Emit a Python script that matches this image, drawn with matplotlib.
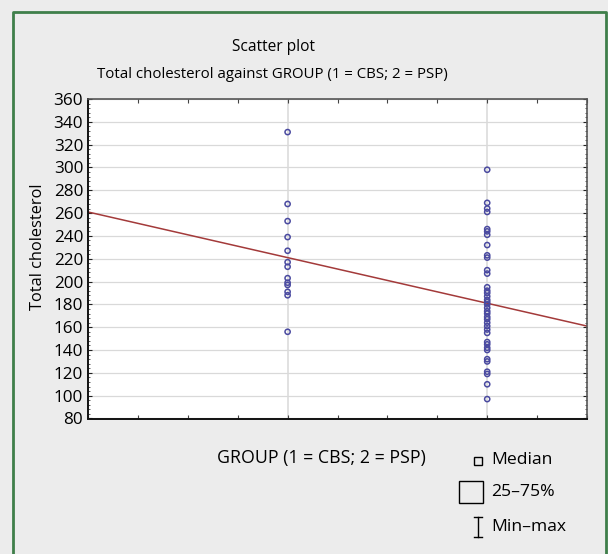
import matplotlib
matplotlib.use("Agg")
import matplotlib.pyplot as plt
from matplotlib.patches import Rectangle
from matplotlib.lines import Line2D
import numpy as np

plt.rcParams['font.family'] = ['Open Sans', 'DejaVu Sans']

# ---- data ----
title_lines = ["Scatter plot", "Total cholesterol against GROUP (1 = CBS; 2 = PSP)"]
x_label = "GROUP (1 = CBS; 2 = PSP)"
y_label = "Total cholesterol"
groups = [1, 2]
group1_values = [331, 268, 253, 239, 227, 217, 213, 203, 199, 197, 191, 188, 156]
group2_values = [298, 269, 264, 261, 246, 244, 241, 232, 223, 221, 210, 207,
                 195, 192, 190, 187, 184, 182, 180, 177, 174, 172, 169, 167,
                 164, 161, 158, 155, 147, 145, 142, 140, 132, 130, 121, 119,
                 110, 97]
fit_intercept = 261.0
fit_slope = -40.0
y_ticks = list(range(80, 361, 20))
x_limits = (0.0, 2.5)
legend_labels = ["Median", "25\u201375%", "Min\u2013max"]

W, H = 608, 554
fig = plt.figure(figsize=(W / 100, H / 100), dpi=100)
fig.patch.set_facecolor('#ececec')

def fx(px):
    return px / W

def fy(py):
    return 1 - py / H

# green frame
fig.add_artist(Line2D([fx(13), fx(13), fx(606), fx(606)],
                      [fy(560), fy(11.5), fy(11.5), fy(560)],
                      color='#3f7f4a', lw=2.0, transform=fig.transFigure))

ax = fig.add_axes([fx(88), fy(418.5), fx(587) - fx(88), fy(99) - fy(418.5)])
ax.set_facecolor('white')

ax.set_xlim(*x_limits)
ax.set_ylim(y_ticks[0], y_ticks[-1])

# grid
for yv in y_ticks:
    ax.axhline(yv, color='#d9d9d9', lw=0.9, zorder=0)
for g in groups:
    ax.axvline(g, color='#d9d9d9', lw=1.1, zorder=0)

# regression line
xs = np.array(x_limits)
ax.plot(xs, fit_intercept + fit_slope * xs, color='#a33a3a', lw=1.1, zorder=2)

# points
ax.scatter([groups[0]] * len(group1_values), group1_values, s=14,
           facecolors='none', edgecolors='#4a4aa0', linewidths=1.1, zorder=3)
ax.scatter([groups[1]] * len(group2_values), group2_values, s=14,
           facecolors='none', edgecolors='#4a4aa0', linewidths=1.1, zorder=3)

# ticks
ax.set_yticks(y_ticks)
ax.set_yticks(np.arange(80, 361, 4), minor=True)
ax.set_xticks(np.arange(0, 2.51, 0.25))
ax.set_xticklabels([])
ax.tick_params(axis='y', which='major', direction='in', length=3, width=0.8,
               labelsize=12.3, pad=3.5, right=True, colors='#222222', labelcolor='black')
ax.tick_params(axis='y', which='minor', direction='in', length=1.5, width=0.6,
               right=True, colors='#444444')
ax.tick_params(axis='x', which='major', direction='in', length=3, width=0.8,
               top=True, colors='#444444')
for side in ['left', 'bottom']:
    ax.spines[side].set_color('#111111')
    ax.spines[side].set_linewidth(1.4)
for side in ['top', 'right']:
    ax.spines[side].set_color('#555555')
    ax.spines[side].set_linewidth(1.2)

# titles and labels
fig.text(fx(273), fy(47), title_lines[0], ha='center', va='center', fontsize=11.2)
fig.text(fx(272), fy(75), title_lines[1], ha='center', va='center', fontsize=10.8)
fig.text(fx(38), fy(247), y_label, ha='center', va='center', rotation=90, fontsize=11.8)
fig.text(fx(321), fy(458), x_label, ha='center', va='center', fontsize=12.8)

# legend
fig.add_artist(Rectangle((fx(474), fy(465)), fx(8), fy(457) - fy(465), fill=False,
                         ec='black', lw=1.0, transform=fig.transFigure))
fig.add_artist(Rectangle((fx(459), fy(503)), fx(24), fy(481) - fy(503), fill=False,
                         ec='black', lw=1.0, transform=fig.transFigure))
fig.add_artist(Line2D([fx(478), fx(478)], [fy(517), fy(537)], color='black', lw=1.0,
                      transform=fig.transFigure))
fig.add_artist(Line2D([fx(474), fx(482)], [fy(517), fy(517)], color='black', lw=1.0,
                      transform=fig.transFigure))
fig.add_artist(Line2D([fx(474), fx(482)], [fy(537), fy(537)], color='black', lw=1.0,
                      transform=fig.transFigure))
for lab, yy in zip(legend_labels, [460, 492, 527]):
    fig.text(fx(491), fy(yy), lab, ha='left', va='center', fontsize=12.6)

fig.savefig('out.png', dpi=100, facecolor=fig.get_facecolor())
